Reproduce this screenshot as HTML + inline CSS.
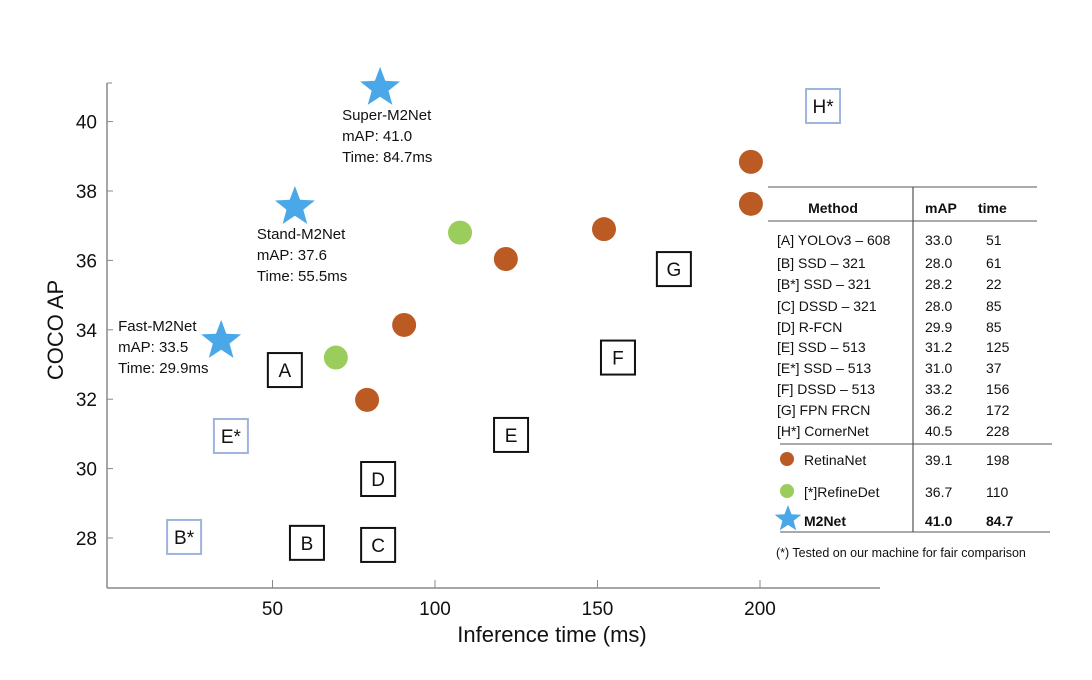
<!DOCTYPE html>
<html><head><meta charset="utf-8"><style>
body{margin:0;background:#fff;}
svg{display:block;font-family:"Liberation Sans",sans-serif;}
</style></head><body>
<svg id="chart" width="1092" height="680" xmlns="http://www.w3.org/2000/svg">
<g id="axes"></g>
<g id="marks"></g>
<g id="table"></g>
</svg>
<script>
const xTicks=[50,100,150,200];
const yTicks=[28,30,32,34,36,38,40];
const boxLabels=["A","B","B*","C","D","E","E*","F","G","H*"];
const boxTime=[53.8,60.6,22.8,82.5,82.5,123.4,37.2,156.3,173.5,219.4];
const boxAP=[32.84,27.86,28.03,27.8,29.7,30.97,30.94,33.2,35.75,40.45];
const boxStar=[false,false,true,false,false,false,true,false,false,true];
const retinaTime=[79.1,90.5,121.8,152,197.2,197.2];
const retinaAP=[31.98,34.14,36.04,36.9,37.63,38.84];
const refineTime=[69.5,107.7];
const refineAP=[33.2,36.8];
const starNames=["Fast-M2Net","Stand-M2Net","Super-M2Net"];
const starTime=[34.2,56.9,83.1];
const starAP=[33.68,37.54,40.97];
const starMAP=["33.5","37.6","41.0"];
const starMs=["29.9ms","55.5ms","84.7ms"];
const tblMethods=["[A] YOLOv3 – 608","[B] SSD – 321","[B*] SSD – 321","[C] DSSD – 321","[D] R-FCN","[E] SSD – 513","[E*] SSD – 513","[F] DSSD – 513","[G] FPN FRCN","[H*] CornerNet"];
const tblMAP=["33.0","28.0","28.2","28.0","29.9","31.2","31.0","33.2","36.2","40.5"];
const tblTime=["51","61","22","85","85","125","37","156","172","228"];

const NS="http://www.w3.org/2000/svg";
const X=v=>110+3.25*v;
const Y=v=>538-34.7*(v-28);
function mk(parent,tag,attrs,text){const e=document.createElementNS(NS,tag);for(const k in attrs)e.setAttribute(k,attrs[k]);if(text!==undefined)e.textContent=text;parent.appendChild(e);return e;}
const axes=document.getElementById('axes'),marks=document.getElementById('marks'),tbl=document.getElementById('table');

let e=mk(axes,'line',{x1:107,y1:588,x2:880,y2:588,stroke:'#888','stroke-width':1.5});

e=mk(axes,'line',{x1:107,y1:83,x2:107,y2:588,stroke:'#888','stroke-width':1.5});

mk(axes,'line',{x1:107,y1:83,x2:112,y2:83,stroke:'#888'});
xTicks.forEach(t=>{
  mk(axes,'line',{x1:X(t),y1:588,x2:X(t),y2:580,stroke:'#888'});
  e=mk(axes,'text',{x:X(t),y:615,'text-anchor':'middle','font-size':19,fill:'#111'},t);
  
});
yTicks.forEach(t=>{
  mk(axes,'line',{x1:107,y1:Y(t),x2:113,y2:Y(t),stroke:'#888'});
  e=mk(axes,'text',{x:97,y:Y(t)+7,'text-anchor':'end','font-size':19,fill:'#111'},t);
  
});
e=mk(axes,'text',{x:552,y:642,'text-anchor':'middle','font-size':22,fill:'#111'},'Inference time (ms)');

e=mk(axes,'text',{x:0,y:0,'text-anchor':'middle','font-size':22,fill:'#111',transform:'translate(63,330) rotate(-90)'},'COCO AP');


boxLabels.forEach((l,i)=>{
  const cx=X(boxTime[i]),cy=Y(boxAP[i]);
  const c=boxStar[i]?'#9fb3e0':'#111';
  e=mk(marks,'rect',{x:cx-17,y:cy-17,width:34,height:34,fill:'none',stroke:c,'stroke-width':2});
  
  e=mk(marks,'text',{x:cx,y:cy+7,'text-anchor':'middle','font-size':19,fill:'#111'},l);
  
});
retinaTime.forEach((t,i)=>{
  e=mk(marks,'circle',{cx:X(t),cy:Y(retinaAP[i]),r:12,fill:'#bb5a22'});
  
});
refineTime.forEach((t,i)=>{
  e=mk(marks,'circle',{cx:X(t),cy:Y(refineAP[i]),r:12,fill:'#9acd5c'});
  
});
function star(cx,cy,R){const r=R*0.42;let p=[];for(let k=0;k<10;k++){const a=-Math.PI/2+k*Math.PI/5;const rr=k%2?r:R;p.push((cx+rr*Math.cos(a)).toFixed(1)+','+(cy+rr*Math.sin(a)).toFixed(1));}return p.join(' ');}
starTime.forEach((t,i)=>{
  const cx=X(t),cy=Y(starAP[i]);
  e=mk(marks,'polygon',{points:star(cx,cy,21),fill:'#4aa8e8'});
  
  const lx=i==0?cx-103:cx-38, ly=i==0?cy-10:cy+32;
  [starNames[i],'mAP: '+starMAP[i],'Time: '+starMs[i]].forEach((s,j)=>{
    e=mk(marks,'text',{x:lx,y:ly+j*21,'font-size':15,fill:'#111'},s);
    
  });
});

// table
mk(tbl,'rect',{x:768,y:187,width:290,height:380,fill:'#fff'});
mk(tbl,'line',{x1:768,y1:187,x2:1037,y2:187,stroke:'#777','stroke-width':1.2});
mk(tbl,'line',{x1:768,y1:221,x2:1037,y2:221,stroke:'#777','stroke-width':1.2});
mk(tbl,'line',{x1:780,y1:444,x2:1052,y2:444,stroke:'#777','stroke-width':1.2});
mk(tbl,'line',{x1:780,y1:532,x2:1050,y2:532,stroke:'#777','stroke-width':1.2});
mk(tbl,'line',{x1:913,y1:187,x2:913,y2:532,stroke:'#555','stroke-width':1.2});
[['Method',833,'middle'],['mAP',925,'start'],['time',978,'start']].forEach(h=>{
  e=mk(tbl,'text',{x:h[1],y:213,'text-anchor':h[2],'font-size':14,'font-weight':'bold',fill:'#111'},h[0]);
  
});
const rowY=[240,263,284,306,327,347,368,389,410,431];
tblMethods.forEach((m,i)=>{
  const y=rowY[i]+5;
  e=mk(tbl,'text',{x:777,y:y,'font-size':14,fill:'#111'},m);
  e=mk(tbl,'text',{x:925,y:y,'font-size':14,fill:'#111'},tblMAP[i]);
  e=mk(tbl,'text',{x:986,y:y,'font-size':14,fill:'#111'},tblTime[i]);
});
mk(tbl,'circle',{cx:787,cy:459,r:7,fill:'#bb5a22'});
mk(tbl,'circle',{cx:787,cy:491,r:7,fill:'#9acd5c'});
mk(tbl,'polygon',{points:star(788,519,14),fill:'#4aa8e8'});
[['RetinaNet','39.1','198',465,'normal'],['[*]RefineDet','36.7','110',497,'normal'],['M2Net','41.0','84.7',526,'bold']].forEach(r=>{
  e=mk(tbl,'text',{x:804,y:r[3],'font-size':14,'font-weight':r[4],fill:'#111'},r[0]);
  e=mk(tbl,'text',{x:925,y:r[3],'font-size':14,'font-weight':r[4],fill:'#111'},r[1]);
  e=mk(tbl,'text',{x:986,y:r[3],'font-size':14,'font-weight':r[4],fill:'#111'},r[2]);
});
e=mk(tbl,'text',{x:776,y:557,'font-size':12.5,fill:'#111'},'(*) Tested on our machine for fair comparison');

</script>
</body></html>
